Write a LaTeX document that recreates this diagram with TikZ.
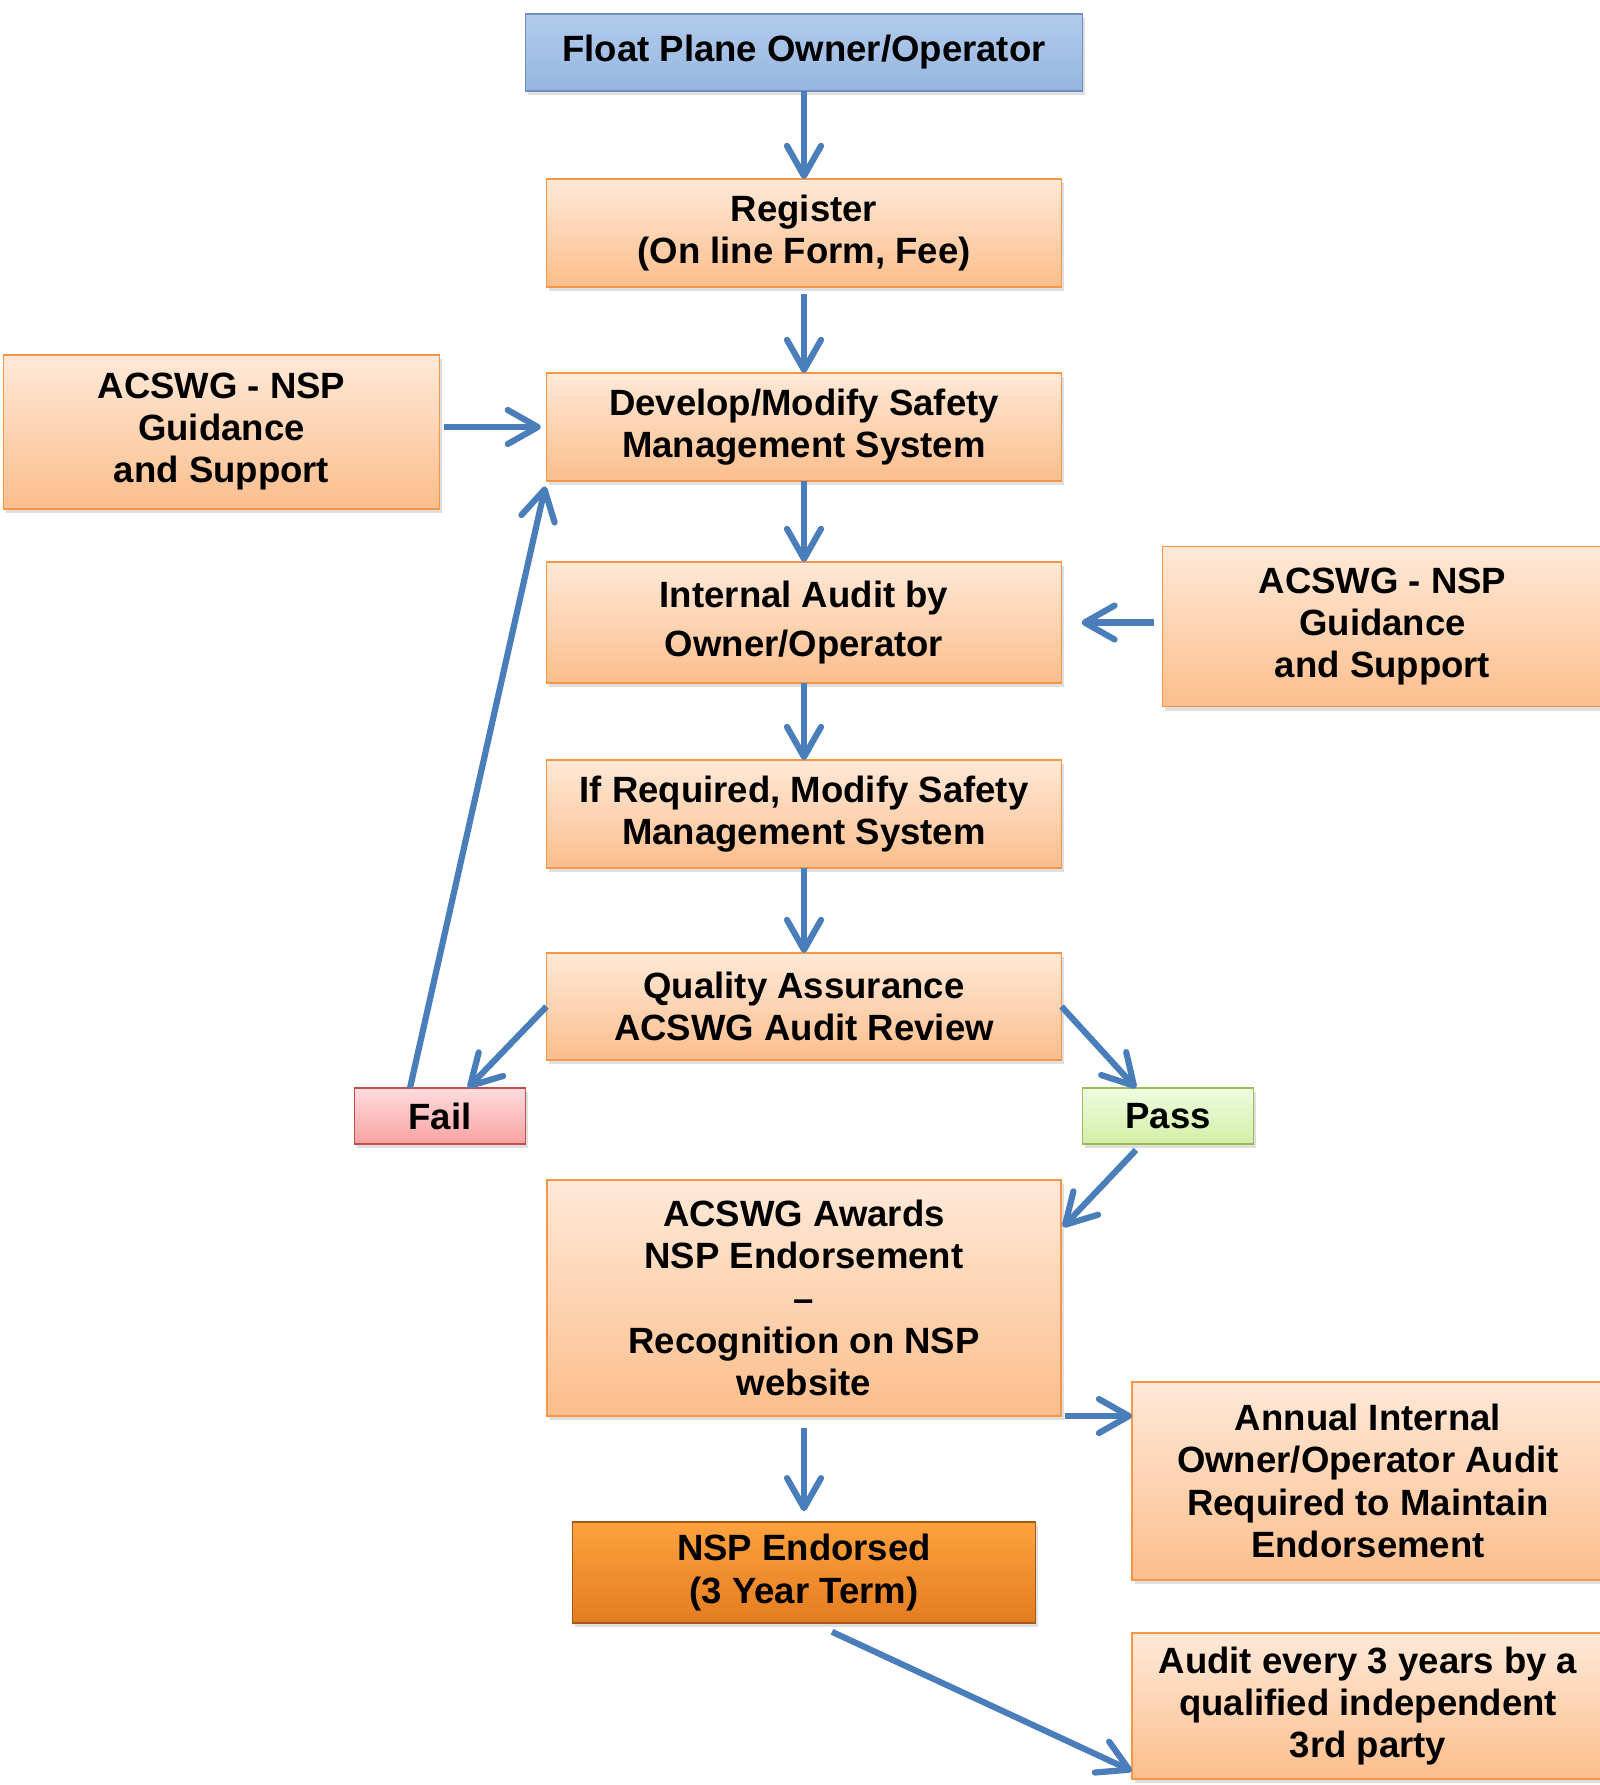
\documentclass[tikz,border=0pt]{standalone}
\usepackage{fontspec}
\setmainfont{Liberation Sans}
\usepackage{xcolor}
\usepackage{tikz}
\usetikzlibrary{arrows.meta,calc,positioning,shadows}
\definecolor{flowcolor}{RGB}{74,126,187}
\definecolor{ownertop}{RGB}{178,203,235}
\definecolor{ownerbot}{RGB}{150,182,224}
\definecolor{owneredge}{RGB}{112,142,190}
\definecolor{steptop}{RGB}{255,233,216}
\definecolor{stepbot}{RGB}{252,190,140}
\definecolor{stepedge}{RGB}{247,150,70}
\definecolor{failtop}{RGB}{255,220,220}
\definecolor{failbot}{RGB}{250,162,162}
\definecolor{failedge}{RGB}{192,80,77}
\definecolor{passtop}{RGB}{240,252,224}
\definecolor{passbot}{RGB}{210,239,166}
\definecolor{passedge}{RGB}{155,187,89}
\definecolor{endtop}{RGB}{253,162,62}
\definecolor{endbot}{RGB}{228,124,32}
\definecolor{endedge}{RGB}{165,88,24}
\tikzset{
  stepbox/.style={draw=stepedge,line width=1.3pt,top color=steptop,bottom color=stepbot,align=center,inner sep=0pt,outer sep=0pt,minimum width=12.875cm,minimum height=2.7cm,drop shadow={shadow xshift=2pt,shadow yshift=-3pt,opacity=0.25}},
  flowarrow/.style={-{Straight Barb[length=7.5mm,width=8.5mm,round]},line width=4.4pt,draw=flowcolor}
}

\begin{document}
\begin{tikzpicture}[font=\bfseries\fontsize{26}{30}\selectfont]
  \useasboundingbox (0,0) rectangle (39.975,-44.625);

  % --- Main column ---
  \node[
    stepbox,
    anchor=north,
    minimum width=13.925cm,
    minimum height=1.925cm,
    top color=ownertop,
    bottom color=ownerbot,
    draw=owneredge
  ] (own) at (20.1,-0.35) {Float Plane Owner/Operator};

  \node[stepbox,below=2.2cm of own] (reg) {Register\\(On line Form, Fee)};

  \node[stepbox,below=2.15cm of reg] (dev) {Develop/Modify Safety\\Management System};

  \node[
    stepbox,
    minimum height=3.025cm,
    below=2.025cm of dev
  ] (aud) {Internal Audit by\\[5pt]Owner/Operator};

  \node[stepbox,below=1.925cm of aud] (mod) {If Required, Modify Safety\\Management System};

  \node[
    stepbox,
    minimum height=2.675cm,
    below=2.125cm of mod
  ] (qa) {Quality Assurance\\ACSWG Audit Review};

  \node[
    stepbox,
    minimum width=12.85cm,
    minimum height=5.9cm,
    below=3.0cm of qa
  ] (award) {ACSWG Awards\\NSP Endorsement\\--\\Recognition on NSP\\website};

  \node[
    stepbox,
    minimum width=11.575cm,
    minimum height=2.525cm,
    top color=endtop,
    bottom color=endbot,
    draw=endedge,
    below=2.65cm of award
  ] (endorsed) {NSP Endorsed\\(3 Year Term)};

  % --- Guidance boxes ---
  \node[
    stepbox,
    minimum width=10.9cm,
    minimum height=3.85cm,
    left=2.675cm of dev,
    yshift=-0.12cm
  ] (helpL) {ACSWG - NSP\\Guidance\\and Support};

  \node[
    stepbox,
    minimum width=11cm,
    minimum height=4cm,
    right=2.525cm of aud,
    yshift=-0.1cm
  ] (helpR) {ACSWG - NSP\\Guidance\\and Support};

  % --- Review outcome ---
  \node[
    stepbox,
    minimum width=4.275cm,
    minimum height=1.4cm,
    top color=failtop,
    bottom color=failbot,
    draw=failedge,
    below left=0.7cm and 0.525cm of qa
  ] (fail) {Fail};

  \node[
    stepbox,
    minimum width=4.275cm,
    minimum height=1.4cm,
    top color=passtop,
    bottom color=passbot,
    draw=passedge,
    below right=0.7cm and 0.525cm of qa
  ] (pass) {Pass};

  % --- Keeping the endorsement ---
  \node[
    stepbox,
    anchor=north west,
    minimum width=11.8cm,
    minimum height=4.95cm
  ] (annual) at ($(award.south east)+(1.775,0.85)$)
    {Annual Internal\\Owner/Operator Audit\\Required to Maintain\\Endorsement};

  \node[
    stepbox,
    minimum width=11.8cm,
    minimum height=3.65cm,
    below=1.325cm of annual
  ] (third) {Audit every 3 years by a\\qualified independent\\3rd party};

  % --- Flow ---
  \draw[flowarrow] (own) -- (reg);
  \draw[flowarrow,shorten <=5pt] (reg) -- (dev);
  \draw[flowarrow,shorten <=3pt,shorten >=4pt] (helpL.east |- dev) -- (dev);
  \draw[flowarrow] (dev) -- (aud);
  \draw[flowarrow,shorten <=6pt,shorten >=0.5cm] (helpR.west |- aud) -- (aud);
  \draw[flowarrow] (aud) -- (mod);
  \draw[flowarrow] (mod) -- (qa);

  \draw[flowarrow] (qa.west) -- ($(fail.north)+(0.7,0)$);
  \draw[flowarrow] (qa.east) -- ($(pass.north)+(-0.8,0)$);
  \draw[flowarrow,shorten >=4pt] ($(fail.north)+(-0.75,0)$) -- (dev.south west);
  \draw[flowarrow] ($(pass.south)+(-0.8,-0.15)$) -- ($(award.north east)+(0.05,-1.175)$);

  \draw[flowarrow,shorten <=3pt] (award.south east) -- (award.south east -| annual.west);
  \draw[flowarrow,shorten <=0.3cm,shorten >=0.27cm] (award) -- (endorsed);
  \draw[flowarrow] ($(endorsed.south)+(0.7,-0.22)$) -- ($(third.south west)+(0,0.2)$);

\end{tikzpicture}
\end{document}
